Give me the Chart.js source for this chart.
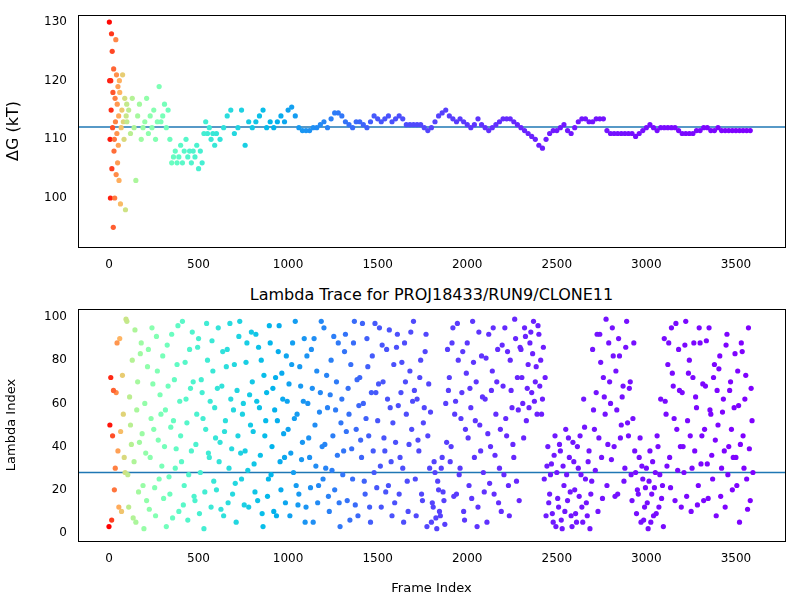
<!DOCTYPE html>
<html><head><meta charset="utf-8">
<script src="https://cdn.jsdelivr.net/npm/chart.js@4/dist/chart.umd.min.js"></script>
<style>
body{margin:0;width:800px;height:600px;background:#fff;position:relative;font-family:"DejaVu Sans",sans-serif;}
canvas{position:absolute;left:0;}
#title{position:absolute;top:285px;left:78px;width:707px;text-align:center;font-size:16px;color:#000;}
</style></head><body>
<canvas id="top" style="top:0"></canvas>
<div id="title">Lambda Trace for PROJ18433/RUN9/CLONE11</div>
<canvas id="bot" style="top:270px"></canvas>
<script>
// early frames of the dG trace (0-100), sampled irregularly
const earlyFrames = [2,4,6,8,10,12,14,16,18,20,22,24,26,28,30,32,34,36,38,40,42,44,46,48,50,52,54,56,58,60,64,68,72,76,80,84,88,92,96,99];
const earlyDG = [130,120,110,100,120,115,128,105,125,112,118,95,122,108,110,100,117,113,127,104,121,111,116,106,119,109,114,103,120,118,99,112,115,121,113,110,117,98,114,116];
// 100-600 every 10 frames
const midDG = [113,115,111,117,112,103,114,116,110,112, 113,117,111,114,112,115,110,113,119,113,
  114,116,112,115,110,106,107,108,106,107, 109,106,108,110,107,108,106,108,107,109,
  105,108,106,111,113,111,112,110,111,109];
// 600-3600 every 20 frames
const lateDG = [111,110,112,114,115, 111,112,115,109,113, 112,113,114,115,112, 113,112,113,114,113,
  115,115.5,114,112,111.5, 111.5,111.5,112,112,112.5, 113,112,113.5,114.5,114.5, 114,113,112.5,112,113,
  113,112.5,112,113,114, 113.5,113,113.5,114,113, 113.5,114,113.5,112.5,112.5, 112.5,112.5,112.5,112,111.5,
  112,113,114,114.5,115, 114,113.5,113,113.5,113, 112.5,112,112.5,113.5,112.5, 112,111.5,112,112.5,113,
  113.5,113.5,113.5,113,112.5, 112,111.5,111,110.5,110, 109,108.5,110,111,111.5, 111.5,112,112.5,111.5,111,
  112,113,113.5,113.5,113, 113,113.5,113.5,113.5,111.5, 111,111,111,111,111, 111,111,110.5,111,111.5,
  112,112.5,112,111.5,112, 112,112,112,112,111.5, 111,111,111,111,111.5, 111.5,112,112,111.5,111.5,
  112,111.5,111.5,111.5,111.5, 111.5,111.5,111.5,111.5,111.5];
const dGMean = 112.1;
// lambda index, every 10 frames from 0
const lambdaIdx = [3,72,45,20,65,38,90,10,55,28, 98,12,50,80,33,5,70,42,88,22, 60,15,85,35,95,48,8,75,25,55,
  82,40,3,68,18,92,52,30,78,10, 45,98,22,62,6,85,38,70,15,55, 90,28,65,2,48,80,35,12,75,58,
  20,95,42,68,8,52,85,30,62,18, 78,5,45,98,25,60,38,88,12,50, 70,32,92,15,58,80,3,45,65,25,
  88,40,10,72,52,96,20,62,35,82, 48,8,78,28,98,55,18,68,42,90, 12,60,35,85,5,50,75,22,65,40,
  95,30,58,10,80,45,20,70,88,3, 62,38,92,15,55,78,25,98,48,8, 72,35,60,18,90,45,5,82,28,65,
  52,95,12,70,38,85,22,58,8,78, 42,92,18,65,30,88,55,10,75,48, 98,25,62,38,80,15,58,92,45,30,
  5,12,28,2,20,8,35,15,60,85, 72,40,95,55,18,80,30,65,10,48, 88,22,58,98,35,70,12,50,82,28,
  62,5,92,40,75,18,55,85,30,10, 68,95,45,22,80,58,35,90,72,15, 85,60,95,52,78,88,65,98,70,55,
  92,80,62,25,8,40,18,32,5,45, 28,12,38,2,22,48,15,35,8,42, 20,5,30,45,12,62,25,8,38,18,
  85,48,65,10,92,35,72,55,22,88, 60,95,40,75,18,82,50,68,30,98, 45,70,15,88,28,20,35,5,25,12,
  30,2,38,18,8,28,45,12,62,22, 90,55,78,35,95,68,15,48,85,40, 65,28,98,52,80,10,72,38,58,22,
  88,45,15,68,32,95,55,25,78,8, 50,82,30,62,12,92,40,70,20,58, 35,75,5,88,45,62,25,95,15,52];
// lambda index, every 10 frames from 5
const lambdaIdx2 = [50,6,66,30,88,12,47,73,35,99, 27,63,41,7,94,57,19,83,46,2, 37,77,11,53,69,21,91,43,64,31,
  16,57,87,26,49,7,71,39,96,61, 33,13,79,51,27,67,93,17,41,86, 9,71,53,19,97,37,61,89,24,44,
  67,33,11,84,47,77,14,97,39,57, 23,66,91,37,55,13,79,29,64,93, 47,19,61,86,36,9,73,52,17,96,
  27,67,57,8,84,33,74,46,14,61, 69,37,88,53,22,13,77,34,61,5, 82,44,21,67,90,31,14,56,98,25,
  41,73,17,64,29,91,57,36,14,51, 27,84,47,67,6,39,88,13,71,59, 43,97,24,53,77,12,65,38,97,21,
  69,31,87,44,19,62,94,33,51,14, 86,59,35,79,5,70,24,41,93,61, 66,8,43,72,18,51,84,3,69,56,
  14,33,7,24,10,30,19,4,42,66, 33,88,17,61,97,27,53,84,6,74, 44,67,16,79,52,3,93,38,63,19,
  81,46,23,66,95,36,70,14,48,87, 27,53,84,8,66,41,99,24,57,86, 72,44,91,67,58,93,83,61,77,96,
  68,55,86,72,31,14,27,9,36,3, 16,41,6,31,10,27,44,19,3,33, 9,40,17,27,5,49,14,33,2,24,
  57,29,92,44,79,16,63,99,41,70, 34,82,17,57,90,44,63,24,86,51, 67,27,53,38,9,18,44,31,6,21,
  14,24,5,33,21,9,40,27,16,3, 61,31,88,21,74,53,97,29,66,12, 40,87,17,74,45,30,88,63,13,95,
  32,69,48,89,16,57,36,72,43,66, 76,17,56,38,87,27,66,48,35,83, 22,59,41,84,30,73,11,39,67,28];
const lambdaMean = 28;
const xTicks = [0,500,1000,1500,2000,2500,3000,3500];
// frame -> colormap position
const colorFrames = [0,30,60,100,200,400,700,1000,1500,2500,3600];
const colorPos = [1,0.85,0.75,0.63,0.54,0.43,0.32,0.22,0.11,0.03,0];

function rainbow(frame){
  let i=0; while(i<colorFrames.length-2 && frame>colorFrames[i+1]) i++;
  const t=(frame-colorFrames[i])/(colorFrames[i+1]-colorFrames[i]);
  const v=colorPos[i]+(colorPos[i+1]-colorPos[i])*Math.min(1,Math.max(0,t));
  const c = x => Math.round(255*Math.max(0,Math.min(1,x)));
  return `rgb(${c(Math.abs(2*v-0.5))},${c(Math.sin(Math.PI*v))},${c(Math.cos(Math.PI*v/2))})`;
}

const dgPts = [];
earlyFrames.forEach((f,i)=>dgPts.push({x:f,y:earlyDG[i]}));
midDG.forEach((v,i)=>dgPts.push({x:100+i*10,y:v}));
lateDG.forEach((v,i)=>dgPts.push({x:600+i*20,y:v}));
const lamPts = lambdaIdx.map((v,i)=>({x:i*10,y:v})).concat(lambdaIdx2.map((v,i)=>({x:i*10+5,y:v})));

const frame = {id:'frame',afterDraw(c){const a=c.chartArea,g=c.ctx;g.save();g.strokeStyle='#000';g.lineWidth=1;g.strokeRect(a.left+0.5,a.top+0.5,a.right-a.left,a.bottom-a.top);g.restore();}};
const font = {family:'DejaVu Sans',size:12};

function make(id,h,pts,mean,ymin,ymax,ytitle,ystep,xtitle,padTop,xh){
  const cv=document.getElementById(id); cv.width=800; cv.height=h; cv.style.width='800px'; cv.style.height=h+'px';
  new Chart(cv,{
    data:{datasets:[
      {type:'scatter',data:pts,pointRadius:2.6,pointBorderWidth:0,pointBackgroundColor:pts.map(p=>rainbow(p.x))},
      {type:'line',data:[{x:-173,y:mean},{x:3774,y:mean}],borderColor:'#1f77b4',borderWidth:1.5,pointRadius:0}
    ]},
    options:{responsive:false,animation:false,devicePixelRatio:1,
      layout:{padding:{top:padTop,right:15,left:0,bottom:0}},
      plugins:{legend:{display:false},tooltip:{enabled:false}},
      scales:{
        x:{type:'linear',min:-173,max:3774,grid:{display:false},border:{color:'#000'},
          afterBuildTicks:s=>{s.ticks=xTicks.map(v=>({value:v}));},
          ticks:{color:'#000',font,maxRotation:0,callback:v=>v},
          title:{display:!!xtitle,text:xtitle,color:'#000',font:{family:'DejaVu Sans',size:13},padding:{top:2}},
          afterFit:s=>{s.height=xh;}},
        y:{min:ymin,max:ymax,grid:{display:false},border:{color:'#000'},
          afterBuildTicks:s=>{const t=[];for(let v=Math.ceil(ymin/ystep)*ystep;v<=ymax;v+=ystep)t.push({value:v});s.ticks=t;},
          ticks:{color:'#000',font},
          title:{display:true,text:ytitle,color:'#000',font:{family:'DejaVu Sans',size:ytitle.length>8?13:16}},
          afterFit:s=>{s.width=78;}}
      }},
    plugins:[frame]
  });
}
make('top',280,dgPts,dGMean,91.65,131.2,'ΔG (kT)',10,'',15,33);
make('bot',330,lamPts,lambdaMean,-3.7,103.7,'Lambda Index',20,'Frame Index',39,59);
</script>
</body></html>
